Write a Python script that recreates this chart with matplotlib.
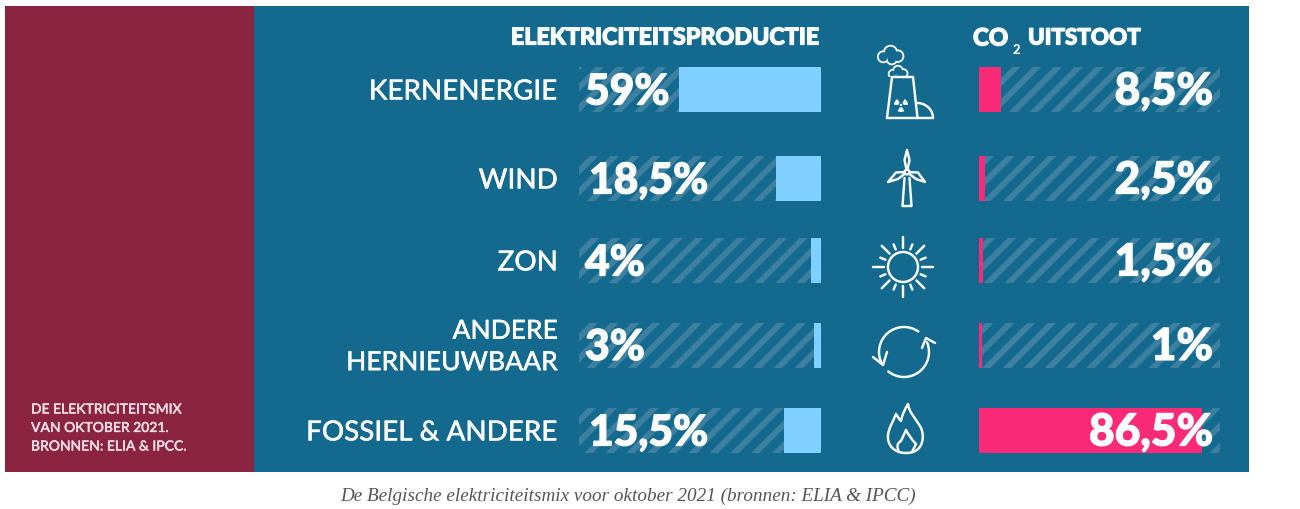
import numpy as np
import matplotlib
matplotlib.use('Agg')
import matplotlib.pyplot as plt
import matplotlib.patheffects as pe
from matplotlib.patches import Rectangle, Circle, PathPatch, Arc, Wedge
from matplotlib.path import Path

categories = ['KERNENERGIE', 'WIND', 'ZON', 'ANDERE\nHERNIEUWBAAR', 'FOSSIEL & ANDERE']
production = [59, 18.5, 4, 3, 15.5]
emissions = [8.5, 2.5, 1.5, 1, 86.5]
production_labels = ['59%', '18,5%', '4%', '3%', '15,5%']
emissions_labels = ['8,5%', '2,5%', '1,5%', '1%', '86,5%']

W, H = 1300, 509
DPI = 125
row_y = [89.5, 178.5, 260.5, 345, 430.5]
BAR_H = 45

TEAL = '#136a8e'
MAROON = '#8a2441'
STRIPE = '#3d80a0'
BLUE = '#80d0ff'
PINK = '#fb2a78'
WHITE = '#fbfdff'

plt.rcParams['hatch.linewidth'] = 3.4
plt.rcParams['font.family'] = 'Lato'

fig = plt.figure(figsize=(W / DPI, H / DPI), dpi=DPI, facecolor='white')

# thickens the lettering of the big numbers and headers
heavy = [pe.withStroke(linewidth=0.7, foreground=WHITE)]
semi = [pe.withStroke(linewidth=0.15, foreground=WHITE)]


def px_axes(x0, y0, x1, y1, zorder):
    # axes placed in pixels, y measured from the top edge
    a = fig.add_axes([x0 / W, 1 - y1 / H, (x1 - x0) / W, (y1 - y0) / H], zorder=zorder)
    a.set_ylim(y1, y0)
    a.axis('off')
    a.patch.set_alpha(0)
    return a


bg = px_axes(0, 0, W, H, 0)
bg.set_xlim(0, W)
bg.add_patch(Rectangle((5, 6), 249, 466, fc=MAROON, lw=0))
bg.add_patch(Rectangle((254, 6), 995, 466, fc=TEAL, lw=0))

# production bars grow leftwards from the right end of the track
ax_prod = px_axes(579, 6, 821, 472, 1)
ax_prod.set_xlim(100.4, 0)
ax_prod.barh(row_y, [100.4] * 5, height=BAR_H, color=TEAL, edgecolor=STRIPE, hatch='//', lw=0)
ax_prod.barh(row_y, production, height=BAR_H, color=BLUE, lw=0)

ax_co2 = px_axes(979, 6, 1220, 472, 1)
ax_co2.set_xlim(0, 93.5)
ax_co2.barh(row_y, [93.5] * 5, height=BAR_H, color=TEAL, edgecolor=STRIPE, hatch='//', lw=0)
ax_co2.barh(row_y, emissions, height=BAR_H, color=PINK, lw=0)

ov = px_axes(0, 0, W, H, 2)
ov.set_xlim(0, W)

# headers
ov.text(819, 38, 'ELEKTRICITEITSPRODUCTIE', ha='right', va='center', color=WHITE,
        fontsize=13.4, fontweight='black', path_effects=heavy)
ov.text(973, 38, 'CO', ha='left', va='center', color=WHITE, fontsize=13.8, fontweight='black', path_effects=heavy)
ov.text(1013, 50, '2', ha='left', va='center', color=WHITE, fontsize=7.5, fontweight='black')
ov.text(1141, 38, 'UITSTOOT', ha='right', va='center', color=WHITE, fontsize=12.9, fontweight='black',
        path_effects=heavy)

# category names and values
for i, name in enumerate(categories):
    ov.text(558, row_y[i] + 2, name, ha='right', va='center', color=WHITE, fontsize=15.2 if i == 3 else 16,
            fontweight='medium', linespacing=1.32, path_effects=semi)
    ov.text(585 if i not in (1, 4) else 589, row_y[i] + 2, production_labels[i], ha='left', va='center',
            color=WHITE, fontsize=24.5, fontweight='black', path_effects=heavy)
    ov.text(1213, row_y[i] + 2, emissions_labels[i], ha='right', va='center',
            color=WHITE, fontsize=25.5, fontweight='black', path_effects=heavy)

ov.text(31, 428, 'DE ELEKTRICITEITSMIX\nVAN OKTOBER 2021.\nBRONNEN: ELIA & IPCC.', ha='left', va='center',
        color='#f6dfe6', fontsize=8.0, fontweight='medium', linespacing=1.65, path_effects=semi)
ov.text(628, 496, 'De Belgische elektriciteitsmix voor oktober 2021 (bronnen: ELIA & IPCC)', ha='center',
        va='center', color='#555555', fontsize=11, style='italic', family='Liberation Serif')

LW = 1.4
icon = dict(fc='none', ec=WHITE, lw=LW, joinstyle='round', capstyle='round')


def line(xs, ys, lw=LW):
    ov.plot(xs, ys, color=WHITE, lw=lw, solid_capstyle='round', solid_joinstyle='round')


def cloud(cx, cy, s):
    lobes = [(-5.5, 1, 4), (0, -2.5, 4.8), (5.5, 0.5, 4.2), (1, 3, 3.6)]
    for dx, dy, r in lobes:
        ov.add_patch(Circle((cx + dx * s, cy + dy * s), r * s, fc=TEAL, ec=WHITE, lw=LW))
    for dx, dy, r in lobes:
        ov.add_patch(Circle((cx + dx * s, cy + dy * s), r * s - 0.6, fc=TEAL, ec='none'))


# nuclear plant
cloud(890.5, 55.5, 1.3)
cloud(898, 73, 0.95)
ov.add_patch(Rectangle((886, 77), 35, 6, fc=TEAL, lw=0))
line([887, 892, 913, 917.5], [118, 77, 77, 118])
line([887, 933], [118, 118])
t = np.linspace(0, np.pi / 2, 30)
line(917 + 16 * np.sin(t), 118 - 15 * np.cos(t))
for ang in (90, 210, 330):
    ov.add_patch(Wedge((901, 105), 7, ang - 28, ang + 28, width=4.5, fc=WHITE, lw=0))
ov.add_patch(Circle((901, 105), 1.2, fc=WHITE, lw=0))

# wind turbine
line([904.5, 902.5, 911.5, 909.5], [178, 206, 206, 178])
ov.add_patch(PathPatch(Path([(907, 172), (904.5, 160), (907, 150), (909.5, 160), (907, 172)]), **icon))
ov.add_patch(PathPatch(Path([(907, 172), (898, 179), (888, 182), (896, 172.5), (907, 172)]), **icon))
ov.add_patch(PathPatch(Path([(907, 172), (916, 179), (925, 182), (918, 172.5), (907, 172)]), **icon))
ov.add_patch(Circle((907, 172), 2.4, fc=TEAL, ec=WHITE, lw=LW))

# sun
ov.add_patch(Circle((903, 267), 15, fc='none', ec=WHITE, lw=LW))
for k in range(16):
    a = np.radians(k * 22.5)
    r1, r2 = (19, 30) if k % 2 == 0 else (19, 24.5)
    line([903 + r1 * np.cos(a), 903 + r2 * np.cos(a)], [267 + r1 * np.sin(a), 267 + r2 * np.sin(a)])

# circular arrows
ov.add_patch(Arc((904, 352), 50, 50, theta1=155, theta2=305, color=WHITE, lw=LW, capstyle='round'))
ov.add_patch(Arc((904, 352), 50, 50, theta1=-23, theta2=129, color=WHITE, lw=LW, capstyle='round'))
line([873, 883, 887], [357, 365, 352])
line([922, 926, 935], [348, 338, 343])

# flame
flame = Path(
    [(906, 453), (894, 453), (887, 445), (888, 435), (889, 427), (893, 422), (896, 414),
     (898, 417), (899, 419), (901, 421), (902, 415), (905, 409), (908, 404),
     (909, 412), (915, 418), (920, 426), (925, 434), (925, 453), (906, 453)],
    [Path.MOVETO, Path.CURVE4, Path.CURVE4, Path.CURVE4, Path.CURVE4, Path.CURVE4, Path.CURVE4,
     Path.CURVE4, Path.CURVE4, Path.CURVE4, Path.CURVE4, Path.CURVE4, Path.CURVE4,
     Path.CURVE4, Path.CURVE4, Path.CURVE4, Path.CURVE4, Path.CURVE4, Path.CURVE4])
ov.add_patch(PathPatch(flame, **icon))
inner = Path(
    [(899, 452), (895, 444), (901, 441), (906, 430), (910, 438), (916, 444), (912, 452)],
    [Path.MOVETO, Path.CURVE3, Path.CURVE3, Path.LINETO, Path.CURVE3, Path.CURVE3, Path.LINETO])
ov.add_patch(PathPatch(inner, **icon))

fig.savefig('out.png', dpi=DPI, facecolor='white')
